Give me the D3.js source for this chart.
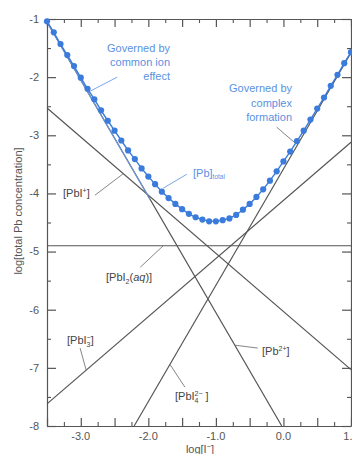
<!DOCTYPE html>
<html>
<head>
<meta charset="utf-8">
<script src="https://cdn.jsdelivr.net/npm/d3@7/dist/d3.min.js"></script>
<style>
  html, body { margin: 0; padding: 0; background: #ffffff; }
  svg { display: block; }
  text { font-family: "Liberation Sans", Arial, Helvetica, sans-serif; }
</style>
</head>
<body>
<script>
// log[I-] grid of the computed total dissolved lead points
const totalLogI = [-3.5, -3.4, -3.3, -3.2, -3.1, -3.0, -2.9, -2.8, -2.7, -2.6,
  -2.5, -2.4, -2.3, -2.2, -2.1, -2.0, -1.9, -1.8, -1.7, -1.6,
  -1.5, -1.4, -1.3, -1.2, -1.1, -1.0, -0.9, -0.8, -0.7, -0.6,
  -0.5, -0.4, -0.3, -0.2, -0.1, 0.0, 0.1, 0.2, 0.3, 0.4,
  0.5, 0.6, 0.7, 0.8, 0.9, 1.0];
// log[Pb]total at each point
const totalLogPb = [-1.04, -1.23, -1.43, -1.62, -1.81, -2.01, -2.20, -2.38, -2.57, -2.75,
  -2.92, -3.09, -3.26, -3.41, -3.57, -3.71, -3.84, -3.97, -4.08, -4.18,
  -4.27, -4.35, -4.41, -4.45, -4.48, -4.48, -4.46, -4.43, -4.37, -4.28,
  -4.18, -4.06, -3.93, -3.78, -3.62, -3.45, -3.28, -3.10, -2.92, -2.73,
  -2.54, -2.35, -2.15, -1.96, -1.76, -1.57];

// individual species: straight lines given by their end points [log I-, log c]
const pb2Line   = [[-3.5, -1.05], [-0.025, -8.0]];
const pbiLine   = [[-3.5, -2.53], [1.0, -7.03]];
const pbi2Line  = [[-3.5, -4.9],  [1.0, -4.9]];
const pbi3Line  = [[-3.5, -7.62], [1.0, -3.12]];
const pbi4Line  = [[-2.21, -8.0], [1.0, -1.58]];
// common-ion asymptote (highlighted stretch of the Pb2+ line)
const commonIonSegment = [[-3.5, -1.05], [-1.98, -4.09]];

// axis ticks
const xMajorTicks = [-3.5, -3.0, -2.5, -2.0, -1.5, -1.0, -0.5, 0.0, 0.5, 1.0];
const xMinorTicks = [-3.25, -2.75, -2.25, -1.75, -1.25, -0.75, -0.25, 0.25, 0.75];
const xTickLabels = [-3.0, -2.0, -1.0, 0.0, 1.0];
const yMajorTicks = [-1, -2, -3, -4, -5, -6, -7, -8];
const yMinorTicks = [-1.5, -2.5, -3.5, -4.5, -5.5, -6.5, -7.5];

const W = 352, H = 454;
const x = d3.scaleLinear().domain([-3.5, 1.0]).range([47, 351]);
const y = d3.scaleLinear().domain([-1, -8]).range([19, 426]);

const blue = "#3a7bdc";
const blueText = "#5b91e2";
const blueLead = "#6b9be3";
const gray = "#555555";

const svg = d3.select("body").append("svg").attr("width", W).attr("height", H);

// species lines
const line = d3.line().x(d => x(d[0])).y(d => y(d[1]));
const species = [pb2Line, pbiLine, pbi2Line, pbi3Line, pbi4Line];
svg.append("g").selectAll("path").data(species).join("path")
  .attr("d", line).attr("fill", "none")
  .attr("stroke", gray).attr("stroke-width", 1.2);

svg.append("path").datum(commonIonSegment).attr("d", line)
  .attr("fill", "none").attr("stroke", blueLead).attr("stroke-width", 1.1);

// frame with inward ticks
function axisSet(axisFn, transform, major, minor, majorLen, minorLen) {
  svg.append("g").attr("transform", transform)
    .call(axisFn.tickValues(major).tickSize(majorLen).tickSizeOuter(0).tickFormat(""))
    .call(g => g.selectAll("line,path").attr("stroke", gray).attr("stroke-width", 1.2));
  svg.append("g").attr("transform", transform)
    .call(axisFn.tickValues(minor).tickSize(minorLen).tickSizeOuter(0).tickFormat(""))
    .call(g => g.select("path").remove())
    .call(g => g.selectAll("line").attr("stroke", gray).attr("stroke-width", 1.1));
}
axisSet(d3.axisBottom(x), `translate(0,${y(-8)})`, xMajorTicks, xMinorTicks, -8, -4);
axisSet(d3.axisTop(x), `translate(0,${y(-1)})`, xMajorTicks, xMinorTicks, -8, -4);
axisSet(d3.axisLeft(y), `translate(${x(-3.5)},0)`, yMajorTicks, yMinorTicks, -9, -4);
axisSet(d3.axisRight(y), `translate(${x(1.0)},0)`, yMajorTicks, yMinorTicks, -9, -4);

// tick labels
svg.append("g").selectAll("text").data(xTickLabels).join("text")
  .attr("x", d => x(d)).attr("y", y(-8) + 14)
  .attr("text-anchor", "middle").attr("font-size", 11).attr("fill", gray)
  .text(d => (d < 0 ? "-" : "") + Math.abs(d).toFixed(1));
svg.append("g").selectAll("text").data(yMajorTicks).join("text")
  .attr("x", x(-3.5) - 8).attr("y", d => y(d)).attr("dy", "0.35em")
  .attr("text-anchor", "end").attr("font-size", 11).attr("fill", gray)
  .text(d => "-" + Math.abs(d));

// axis titles
const xTitle = svg.append("text").attr("x", 200).attr("y", 453)
  .attr("text-anchor", "middle").attr("font-size", 11).attr("fill", gray);
xTitle.append("tspan").text("log[I");
xTitle.append("tspan").attr("font-size", 7.5).attr("dy", -4).text("−");
xTitle.append("tspan").attr("dy", 4).text("]");

svg.append("text").attr("transform", `translate(22,211) rotate(-90)`)
  .attr("text-anchor", "middle").attr("font-size", 11).attr("fill", gray)
  .text("log[total Pb concentration]");

// total dissolved lead: connecting line and markers
const totalPts = totalLogI.map((v, i) => [v, totalLogPb[i]]);
svg.append("path").datum(totalPts).attr("d", line)
  .attr("fill", "none").attr("stroke", blue).attr("stroke-width", 1.4);
svg.append("g").selectAll("circle").data(totalPts).join("circle")
  .attr("cx", d => x(d[0])).attr("cy", d => y(d[1])).attr("r", 3.1)
  .attr("fill", blue);

// leader lines from each label to the line it names (data coordinates)
function leader(x0, y0, x1, y1, color) {
  svg.append("line")
    .attr("x1", x(x0)).attr("y1", y(y0)).attr("x2", x(x1)).attr("y2", y(y1))
    .attr("stroke", color).attr("stroke-width", 0.9);
}
leader(-2.46, -2.0, -2.86, -2.24, blueLead);   // common ion effect
leader(-0.10, -2.86, 0.17, -3.13, "#777");     // complex formation
leader(-1.43, -3.67, -1.78, -3.91, blueLead);  // [Pb]total
leader(-2.79, -4.03, -2.37, -3.66, "#777");    // [PbI+]
leader(-2.12, -5.27, -1.78, -4.9, "#777");     // [PbI2(aq)]
leader(-3.01, -6.66, -2.92, -7.04, "#777");    // [PbI3-]
leader(-0.38, -6.66, -0.72, -6.61, "#777");    // [Pb2+]
leader(-1.46, -7.33, -1.68, -6.94, "#777");    // [PbI4 2-]

// blue annotations
function block(lines, xr, y0, step, anchor) {
  const t = svg.append("text").attr("font-size", 11).attr("fill", blueText)
    .attr("text-anchor", anchor);
  lines.forEach((s, i) => t.append("tspan").attr("x", xr).attr("y", y0 + i * step).text(s));
}
block(["Governed by", "common ion", "effect"], 170, 52, 14, "end");
block(["Governed by", "complex", "formation"], 292, 92, 14.5, "end");

const pbt = svg.append("text").attr("x", 193).attr("y", 177)
  .attr("font-size", 11).attr("fill", blueText);
pbt.append("tspan").text("[Pb]");
pbt.append("tspan").attr("font-size", 6.5).attr("dy", 2).text("total");

// species labels
function speciesLabel(xp, yp, parts) {
  const t = svg.append("text").attr("x", xp).attr("y", yp)
    .attr("font-size", 11).attr("fill", "#444");
  parts.forEach(p => {
    const s = t.append("tspan").text(p.t);
    if (p.small) s.attr("font-size", 7);
    if (p.dy) s.attr("dy", p.dy);
    if (p.dx) s.attr("dx", p.dx);
    if (p.it) s.attr("font-style", "italic");
  });
}
speciesLabel(63, 197, [{t: "[PbI"}, {t: "+", small: true, dy: -4}, {t: "]", dy: 4}]);
speciesLabel(106, 281, [{t: "[PbI"}, {t: "2", small: true, dy: 3}, {t: "(", dy: -3}, {t: "aq", it: true}, {t: ")]"}]);
speciesLabel(67, 344, [{t: "[PbI"}, {t: "3", small: true, dy: 3}, {t: "−", small: true, dy: -7, dx: -3.9}, {t: "]", dy: 4}]);
speciesLabel(262, 355, [{t: "[Pb"}, {t: "2+", small: true, dy: -4}, {t: "]", dy: 4}]);
speciesLabel(175, 400, [{t: "[PbI"}, {t: "4", small: true, dy: 3}, {t: "2−", small: true, dy: -7, dx: -3.9}, {t: " ]", dy: 4}]);
</script>
</body>
</html>
